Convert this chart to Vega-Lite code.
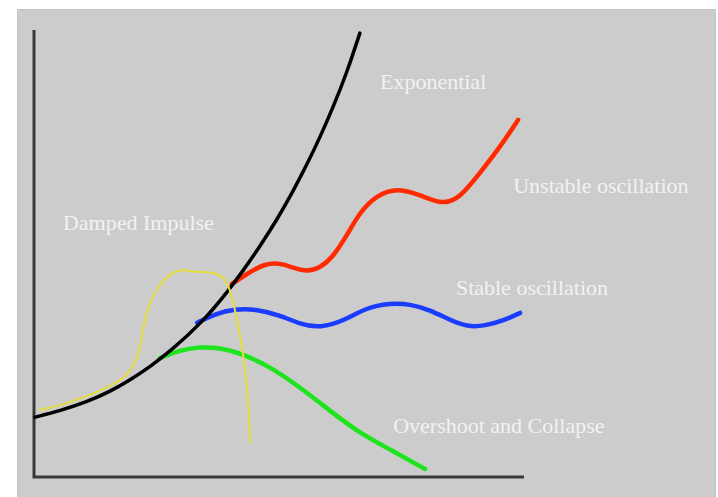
{
  "$schema": "https://vega.github.io/schema/vega-lite/v6.json",
  "width": 698,
  "height": 488,
  "autosize": "none",
  "padding": {"left": 17, "top": 9, "right": 3, "bottom": 0},
  "background": "white",
  "view": {"fill": "#cccccc", "stroke": "#c2c2c2", "strokeWidth": 1},
  "datasets": {
    "axes": [
      {"x": 0, "y": 100, "order": 1},
      {"x": 0, "y": 0, "order": 2},
      {"x": 100, "y": 0, "order": 3}
    ],
    "curves": [
      {"series": "Exponential", "x": 0.2, "y": 13.4},
      {"series": "Exponential", "x": 5.3, "y": 14.8},
      {"series": "Exponential", "x": 10.8, "y": 16.8},
      {"series": "Exponential", "x": 15.5, "y": 19.1},
      {"series": "Exponential", "x": 19.6, "y": 21.7},
      {"series": "Exponential", "x": 23.7, "y": 24.7},
      {"series": "Exponential", "x": 27.8, "y": 28.1},
      {"series": "Exponential", "x": 34.5, "y": 34.8},
      {"series": "Exponential", "x": 39.4, "y": 41.3},
      {"series": "Exponential", "x": 42.7, "y": 46.2},
      {"series": "Exponential", "x": 46.1, "y": 51.6},
      {"series": "Exponential", "x": 49.6, "y": 57.6},
      {"series": "Exponential", "x": 52.9, "y": 64.0},
      {"series": "Exponential", "x": 55.7, "y": 69.9},
      {"series": "Exponential", "x": 58.4, "y": 76.1},
      {"series": "Exponential", "x": 61.0, "y": 82.6},
      {"series": "Exponential", "x": 63.9, "y": 90.6},
      {"series": "Exponential", "x": 66.5, "y": 99.3},
      {"series": "Unstable", "x": 40.4, "y": 43.2},
      {"series": "Unstable", "x": 44.1, "y": 45.9},
      {"series": "Unstable", "x": 47.1, "y": 47.7},
      {"series": "Unstable", "x": 50.2, "y": 47.9},
      {"series": "Unstable", "x": 52.9, "y": 46.8},
      {"series": "Unstable", "x": 55.7, "y": 45.9},
      {"series": "Unstable", "x": 58.4, "y": 46.8},
      {"series": "Unstable", "x": 61.0, "y": 49.2},
      {"series": "Unstable", "x": 63.9, "y": 54.1},
      {"series": "Unstable", "x": 66.5, "y": 59.3},
      {"series": "Unstable", "x": 70.0, "y": 63.1},
      {"series": "Unstable", "x": 74.1, "y": 64.7},
      {"series": "Unstable", "x": 78.8, "y": 63.1},
      {"series": "Unstable", "x": 83.5, "y": 60.9},
      {"series": "Unstable", "x": 86.9, "y": 62.4},
      {"series": "Unstable", "x": 91.0, "y": 68.0},
      {"series": "Unstable", "x": 95.1, "y": 73.8},
      {"series": "Unstable", "x": 98.8, "y": 79.9},
      {"series": "Stable", "x": 33.3, "y": 34.5},
      {"series": "Stable", "x": 36.9, "y": 36.5},
      {"series": "Stable", "x": 41.0, "y": 37.6},
      {"series": "Stable", "x": 45.1, "y": 37.6},
      {"series": "Stable", "x": 50.2, "y": 36.2},
      {"series": "Stable", "x": 54.3, "y": 34.2},
      {"series": "Stable", "x": 58.4, "y": 33.3},
      {"series": "Stable", "x": 63.5, "y": 35.1},
      {"series": "Stable", "x": 67.6, "y": 37.8},
      {"series": "Stable", "x": 72.7, "y": 38.9},
      {"series": "Stable", "x": 76.7, "y": 38.7},
      {"series": "Stable", "x": 80.8, "y": 37.4},
      {"series": "Stable", "x": 84.9, "y": 35.1},
      {"series": "Stable", "x": 88.4, "y": 33.6},
      {"series": "Stable", "x": 92.0, "y": 33.8},
      {"series": "Stable", "x": 96.1, "y": 35.1},
      {"series": "Stable", "x": 99.2, "y": 36.7},
      {"series": "Overshoot", "x": 25.7, "y": 26.6},
      {"series": "Overshoot", "x": 29.8, "y": 28.4},
      {"series": "Overshoot", "x": 33.9, "y": 29.1},
      {"series": "Overshoot", "x": 38.0, "y": 28.9},
      {"series": "Overshoot", "x": 42.0, "y": 27.7},
      {"series": "Overshoot", "x": 47.6, "y": 25.1},
      {"series": "Overshoot", "x": 54.3, "y": 20.1},
      {"series": "Overshoot", "x": 61.0, "y": 14.3},
      {"series": "Overshoot", "x": 66.1, "y": 10.1},
      {"series": "Overshoot", "x": 72.9, "y": 6.0},
      {"series": "Overshoot", "x": 79.8, "y": 1.8},
      {"series": "Damped", "x": 1.2, "y": 15.0},
      {"series": "Damped", "x": 7.3, "y": 16.6},
      {"series": "Damped", "x": 14.1, "y": 19.5},
      {"series": "Damped", "x": 19.0, "y": 22.4},
      {"series": "Damped", "x": 21.0, "y": 26.2},
      {"series": "Damped", "x": 22.0, "y": 30.6},
      {"series": "Damped", "x": 22.7, "y": 36.7},
      {"series": "Damped", "x": 25.1, "y": 42.5},
      {"series": "Damped", "x": 27.8, "y": 45.6},
      {"series": "Damped", "x": 30.4, "y": 46.5},
      {"series": "Damped", "x": 31.8, "y": 45.9},
      {"series": "Damped", "x": 37.3, "y": 45.9},
      {"series": "Damped", "x": 39.4, "y": 44.1},
      {"series": "Damped", "x": 40.6, "y": 39.6},
      {"series": "Damped", "x": 42.0, "y": 32.2},
      {"series": "Damped", "x": 43.1, "y": 24.6},
      {"series": "Damped", "x": 43.7, "y": 17.2},
      {"series": "Damped", "x": 44.1, "y": 7.6}
    ],
    "labels": [
      {"text": "Exponential", "x": 70.6, "y": 86.8},
      {"text": "Unstable oscillation", "x": 97.8, "y": 63.5},
      {"text": "Damped Impulse", "x": 5.9, "y": 55.3},
      {"text": "Stable oscillation", "x": 86.1, "y": 40.7},
      {"text": "Overshoot and Collapse", "x": 73.3, "y": 9.8}
    ]
  },
  "encoding": {
    "x": {
      "field": "x",
      "type": "quantitative",
      "axis": null,
      "scale": {"domain": [-3.47, 138.98], "nice": false, "zero": false}
    },
    "y": {
      "field": "y",
      "type": "quantitative",
      "axis": null,
      "scale": {"domain": [-4.47, 104.7], "nice": false, "zero": false}
    }
  },
  "layer": [
    {
      "data": {"name": "axes"},
      "mark": {"type": "line", "color": "#383838", "strokeWidth": 3, "strokeJoin": "miter"},
      "encoding": {"order": {"field": "order"}}
    },
    {
      "data": {"name": "curves"},
      "transform": [{"filter": "datum.series === 'Overshoot'"}],
      "mark": {"type": "line", "color": "#1ee41e", "strokeWidth": 4.5, "interpolate": "basis", "strokeCap": "round"},
      "encoding": {}
    },
    {
      "data": {"name": "curves"},
      "transform": [{"filter": "datum.series === 'Stable'"}],
      "mark": {"type": "line", "color": "#1a3cff", "strokeWidth": 4.5, "interpolate": "basis", "strokeCap": "round"},
      "encoding": {}
    },
    {
      "data": {"name": "curves"},
      "transform": [{"filter": "datum.series === 'Unstable'"}],
      "mark": {"type": "line", "color": "#ff2a00", "strokeWidth": 4.5, "interpolate": "basis", "strokeCap": "round"},
      "encoding": {}
    },
    {
      "data": {"name": "curves"},
      "transform": [{"filter": "datum.series === 'Exponential'"}],
      "mark": {"type": "line", "color": "#000000", "strokeWidth": 3.5, "interpolate": "basis", "strokeCap": "round"},
      "encoding": {}
    },
    {
      "data": {"name": "curves"},
      "transform": [{"filter": "datum.series === 'Damped'"}],
      "mark": {"type": "line", "color": "#e6dc3c", "strokeWidth": 2, "interpolate": "basis", "strokeCap": "round"},
      "encoding": {}
    },
    {
      "data": {"name": "labels"},
      "mark": {
        "type": "text",
        "align": "left",
        "baseline": "alphabetic",
        "font": "Liberation Serif",
        "fontSize": 22,
        "color": "#f2f2f2"
      },
      "encoding": {"text": {"field": "text"}}
    }
  ]
}
